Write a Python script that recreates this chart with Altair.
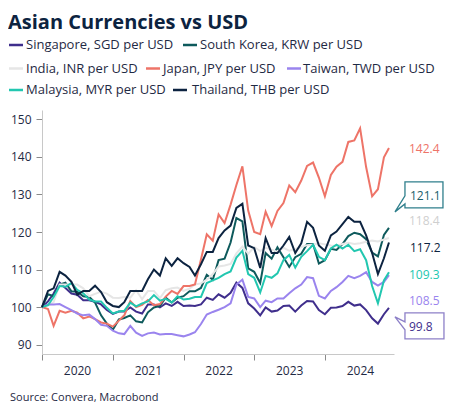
import altair as alt
import pandas as pd

# ---------------- data (index, Jan 2020 = 100) ----------------
dates = list(pd.date_range("2020-01-01", "2024-11-01", freq="MS").strftime("%Y-%m-%d")) + ["2024-11-27"]

names = ["Singapore, SGD per USD", "South Korea, KRW per USD", "India, INR per USD",
         "Japan, JPY per USD", "Taiwan, TWD per USD", "Malaysia, MYR per USD",
         "Thailand, THB per USD"]
colors = ["#3f2e8c", "#0e5a5c", "#e6e6e6", "#ee7468", "#9a84ee", "#22c7b0", "#0c2340"]

sgd = [100, 101.5, 103.6, 106.5, 105.1, 103.6, 103.3, 101.8, 101.8, 101.4, 100.7, 99.2,
       98.2, 98.8, 98.8, 99.9, 98.8, 98.3, 100.7, 100.7, 99.9, 101.0, 100.3, 101.4,
       100.3, 100.4, 100.3, 100.7, 102.5, 101.9, 103.4, 102.5, 103.8, 106.5, 105.1, 101.0,
       99.6, 97.8, 99.9, 98.8, 99.1, 100.3, 100.4, 98.8, 100.4, 101.6, 101.5, 99.2,
       98.1, 99.8, 99.9, 100.3, 101.4, 100.4, 100.7, 99.2, 97.0, 95.6, 98.1, 99.8]
krw = [100, 103.4, 102.9, 106.0, 106.5, 104.2, 104.1, 102.9, 102.7, 101.2, 97.8, 95.6,
       94.0, 96.7, 97.1, 97.8, 96.2, 95.9, 98.6, 99.9, 100.3, 102.5, 101.2, 102.5,
       102.9, 104.2, 104.2, 105.1, 108.6, 107.3, 112.5, 112.9, 117.2, 123.7, 122.8, 110.3,
       109.4, 106.4, 114.4, 112.9, 115.9, 113.3, 110.7, 113.3, 114.2, 116.8, 116.8, 111.6,
       112.5, 115.5, 115.2, 116.8, 118.9, 119.8, 119.4, 118.1, 114.5, 113.5, 119.2, 121.1]
inr = [100, 100.4, 101.3, 106.0, 106.0, 106.0, 106.0, 105.0, 102.9, 103.5, 104.1, 103.6,
       102.5, 102.4, 102.7, 102.5, 104.5, 102.1, 104.3, 104.3, 102.4, 104.5, 105.0, 105.2,
       104.3, 104.9, 106.0, 106.3, 107.3, 108.8, 110.8, 111.1, 111.5, 114.3, 116.1, 114.2,
       116.0, 114.9, 115.8, 115.3, 114.7, 115.8, 115.0, 115.4, 116.0, 116.5, 116.7, 117.0,
       116.7, 116.4, 116.3, 116.8, 117.1, 116.8, 117.0, 117.4, 117.7, 117.5, 118.0, 118.4]
jpy = [100, 99.5, 95.0, 99.0, 98.5, 99.0, 98.5, 97.0, 97.5, 96.8, 95.9, 95.6,
       94.8, 96.4, 97.8, 101.6, 100.0, 100.6, 101.9, 100.5, 100.8, 102.8, 104.3, 103.5,
       105.6, 105.6, 106.0, 112.7, 119.4, 117.7, 124.7, 122.4, 127.3, 132.5, 137.5, 125.7,
       120.0, 119.4, 125.4, 121.6, 125.6, 127.7, 132.4, 130.6, 133.7, 137.6, 138.5, 134.5,
       129.5, 135.2, 137.4, 138.7, 144.0, 144.4, 147.6, 137.3, 129.5, 131.4, 139.9, 142.4]
twd = [100, 100.7, 100.7, 100.8, 100.0, 99.2, 98.3, 97.8, 98.0, 96.8, 95.3, 95.0,
       93.7, 93.0, 92.8, 95.0, 93.2, 92.3, 93.0, 93.2, 92.7, 92.8, 92.8, 92.5,
       92.2, 92.7, 93.3, 95.5, 98.0, 98.7, 99.3, 100.0, 101.0, 106.0, 107.3, 102.7,
       102.3, 100.0, 101.7, 101.3, 102.3, 102.3, 103.7, 105.0, 106.0, 108.0, 107.7, 103.0,
       102.3, 104.3, 105.3, 106.7, 108.3, 107.7, 108.3, 109.3, 106.7, 105.7, 106.7, 108.5]
myr = [100, 100.5, 102.7, 105.6, 105.4, 106.4, 104.6, 103.7, 102.0, 101.5, 101.5, 99.8,
       98.3, 98.8, 99.0, 101.2, 100.2, 101.0, 101.5, 103.2, 101.7, 102.2, 101.2, 102.9,
       102.0, 102.2, 102.7, 102.7, 106.4, 107.1, 107.8, 108.8, 109.5, 113.2, 115.0, 108.8,
       107.8, 103.9, 108.3, 107.8, 109.0, 112.5, 113.9, 110.5, 113.4, 114.9, 116.6, 113.4,
       112.5, 115.6, 116.6, 115.6, 116.6, 114.9, 115.4, 112.5, 105.6, 101.0, 107.1, 109.3]
thb = [100, 104.3, 105.0, 109.4, 108.4, 106.7, 103.3, 104.3, 104.3, 105.7, 104.0, 101.3,
       100.3, 100.0, 101.3, 104.3, 104.3, 104.3, 107.4, 110.0, 108.4, 113.0, 111.0, 113.0,
       111.7, 110.7, 108.4, 111.4, 114.7, 114.7, 118.4, 120.4, 121.7, 126.4, 127.5, 116.4,
       115.7, 110.4, 118.4, 114.4, 114.4, 116.4, 118.7, 114.4, 117.0, 122.7, 121.1, 116.4,
       115.0, 119.1, 120.1, 122.1, 124.0, 122.7, 122.7, 119.1, 114.4, 108.8, 113.0, 117.2]

series = [sgd, krw, inr, jpy, twd, myr, thb]
end_labels = ["99.8", "121.1", "118.4", "142.4", "108.5", "109.3", "117.2"]

y_ticks = [90, 100, 110, 120, 130, 140, 150]
year_ticks = [2020, 2021, 2022, 2023, 2024]

# ---------------- layout / style ----------------
W, H = 352, 244
FONT = "Segoe UI, Open Sans, sans-serif"
TXT = "#1f2a44"
label_colors = ["#3f2e8c", "#1b5f6b", "#cfcfcf", "#ee7468", "#9a84ee", "#22c7b0", "#0c2340"]
label_dy = [19.5, -32, -17.5, 1.5, 26, 3, 5.5]
label_dx = [20, 21, 20, 20, 20, 20, 21]

x_scale = alt.Scale(domain=[alt.DateTime(year=2020, month=1, date=1),
                            alt.DateTime(year=2024, month=12, date=23)])
y_scale = alt.Scale(domain=[87.5, 152.5], nice=False, zero=False)
x_axis = alt.Axis(values=[alt.DateTime(year=y, month=1, date=1) for y in year_ticks],
                  format="%Y", labelOffset=35, labelFlush=False, labelOverlap=False,
                  tickSize=6, labelPadding=5, grid=False, title=None,
                  domainColor="#c8c8c8", tickColor="#8a8a8a", labelColor=TXT,
                  labelFontSize=12, labelFont=FONT)
y_axis = alt.Axis(values=y_ticks, tickSize=6, labelPadding=5, grid=False, title=None,
                  domainColor="#c8c8c8", tickColor="#8a8a8a", labelColor=TXT,
                  labelFontSize=12, labelFont=FONT)

def xy():
    return dict(x=alt.X("date:T", scale=x_scale, axis=x_axis),
                y=alt.Y("value:Q", scale=y_scale, axis=y_axis))

layers = []
for name, col, vals in zip(names, colors, series):
    df = pd.DataFrame({"date": dates, "value": vals, "series": name})
    layers.append(alt.Chart(df).mark_line(color=col, strokeWidth=2).encode(**xy()))

# callout boxes (custom path in pixel units: size 4 -> scale 1)
callouts = {
    1: ("M16,-46L54,-46L54,-20L16,-20L16,-24L6,-16L16,-32Z", "#2f7f8c"),
    0: ("M16,5L55,5L55,31L16,31L16,22L6,9L16,14Z", "#8d80c8"),
}
for idx, (path, stroke) in callouts.items():
    df = pd.DataFrame({"date": [dates[-1]], "value": [series[idx][-1]]})
    layers.append(alt.Chart(df).mark_point(shape=path, size=4, fill="white", filled=True,
                                           stroke=stroke, strokeWidth=1.3,
                                           opacity=1, fillOpacity=1, strokeOpacity=1).encode(**xy()))

# end-value labels (dodged vertically)
for i in range(7):
    df = pd.DataFrame({"date": [dates[-1]], "value": [series[i][-1]], "t": [end_labels[i]]})
    layers.append(alt.Chart(df).mark_text(align="left", baseline="middle", dx=label_dx[i],
                                          dy=label_dy[i], fontSize=12, font=FONT,
                                          color=label_colors[i]).encode(text="t:N", **xy()))

# manual legend (flowing rows), positions relative to plot origin
legend_layout = [  # (series index, symbol x start, text x, y)
    (0, -33, -16, -65), (1, 141, 158, -65),
    (2, -33, -16, -41.5), (3, 104, 121, -41.5), (4, 245, 261, -41.5),
    (5, -33, -16, -20), (6, 131, 150, -20),
]
one = pd.DataFrame({"a": [0]})
for sidx, sx, tx, ly in legend_layout:
    layers.append(alt.Chart(one).mark_rule(color=colors[sidx], strokeWidth=2.5).encode(
        x=alt.value(sx), x2=alt.value(sx + 14), y=alt.value(ly)))
    layers.append(alt.Chart(one).mark_text(align="left", baseline="middle", fontSize=13,
                                           font=FONT, color=TXT).encode(
        x=alt.value(tx), y=alt.value(ly), text=alt.value(names[sidx])))

# title and source
layers.append(alt.Chart(one).mark_text(align="left", baseline="middle", fontSize=20,
                                       fontWeight="bold", font=FONT, color="#0c2340").encode(
    x=alt.value(-34), y=alt.value(-87), text=alt.value("Asian Currencies vs USD")))
layers.append(alt.Chart(one).mark_text(align="left", baseline="middle", fontSize=11,
                                       font=FONT, color=TXT).encode(
    x=alt.value(-32), y=alt.value(288), text=alt.value("Source: Convera, Macrobond")))

chart = alt.layer(*layers).properties(
    width=W, height=H,
    autosize=alt.AutoSizeParams(type="none"),
    padding={"left": 34, "top": 102, "right": 51, "bottom": 55},
).configure_view(stroke=None)

chart.save("out.html", embed_options={"renderer": "svg", "actions": False})
